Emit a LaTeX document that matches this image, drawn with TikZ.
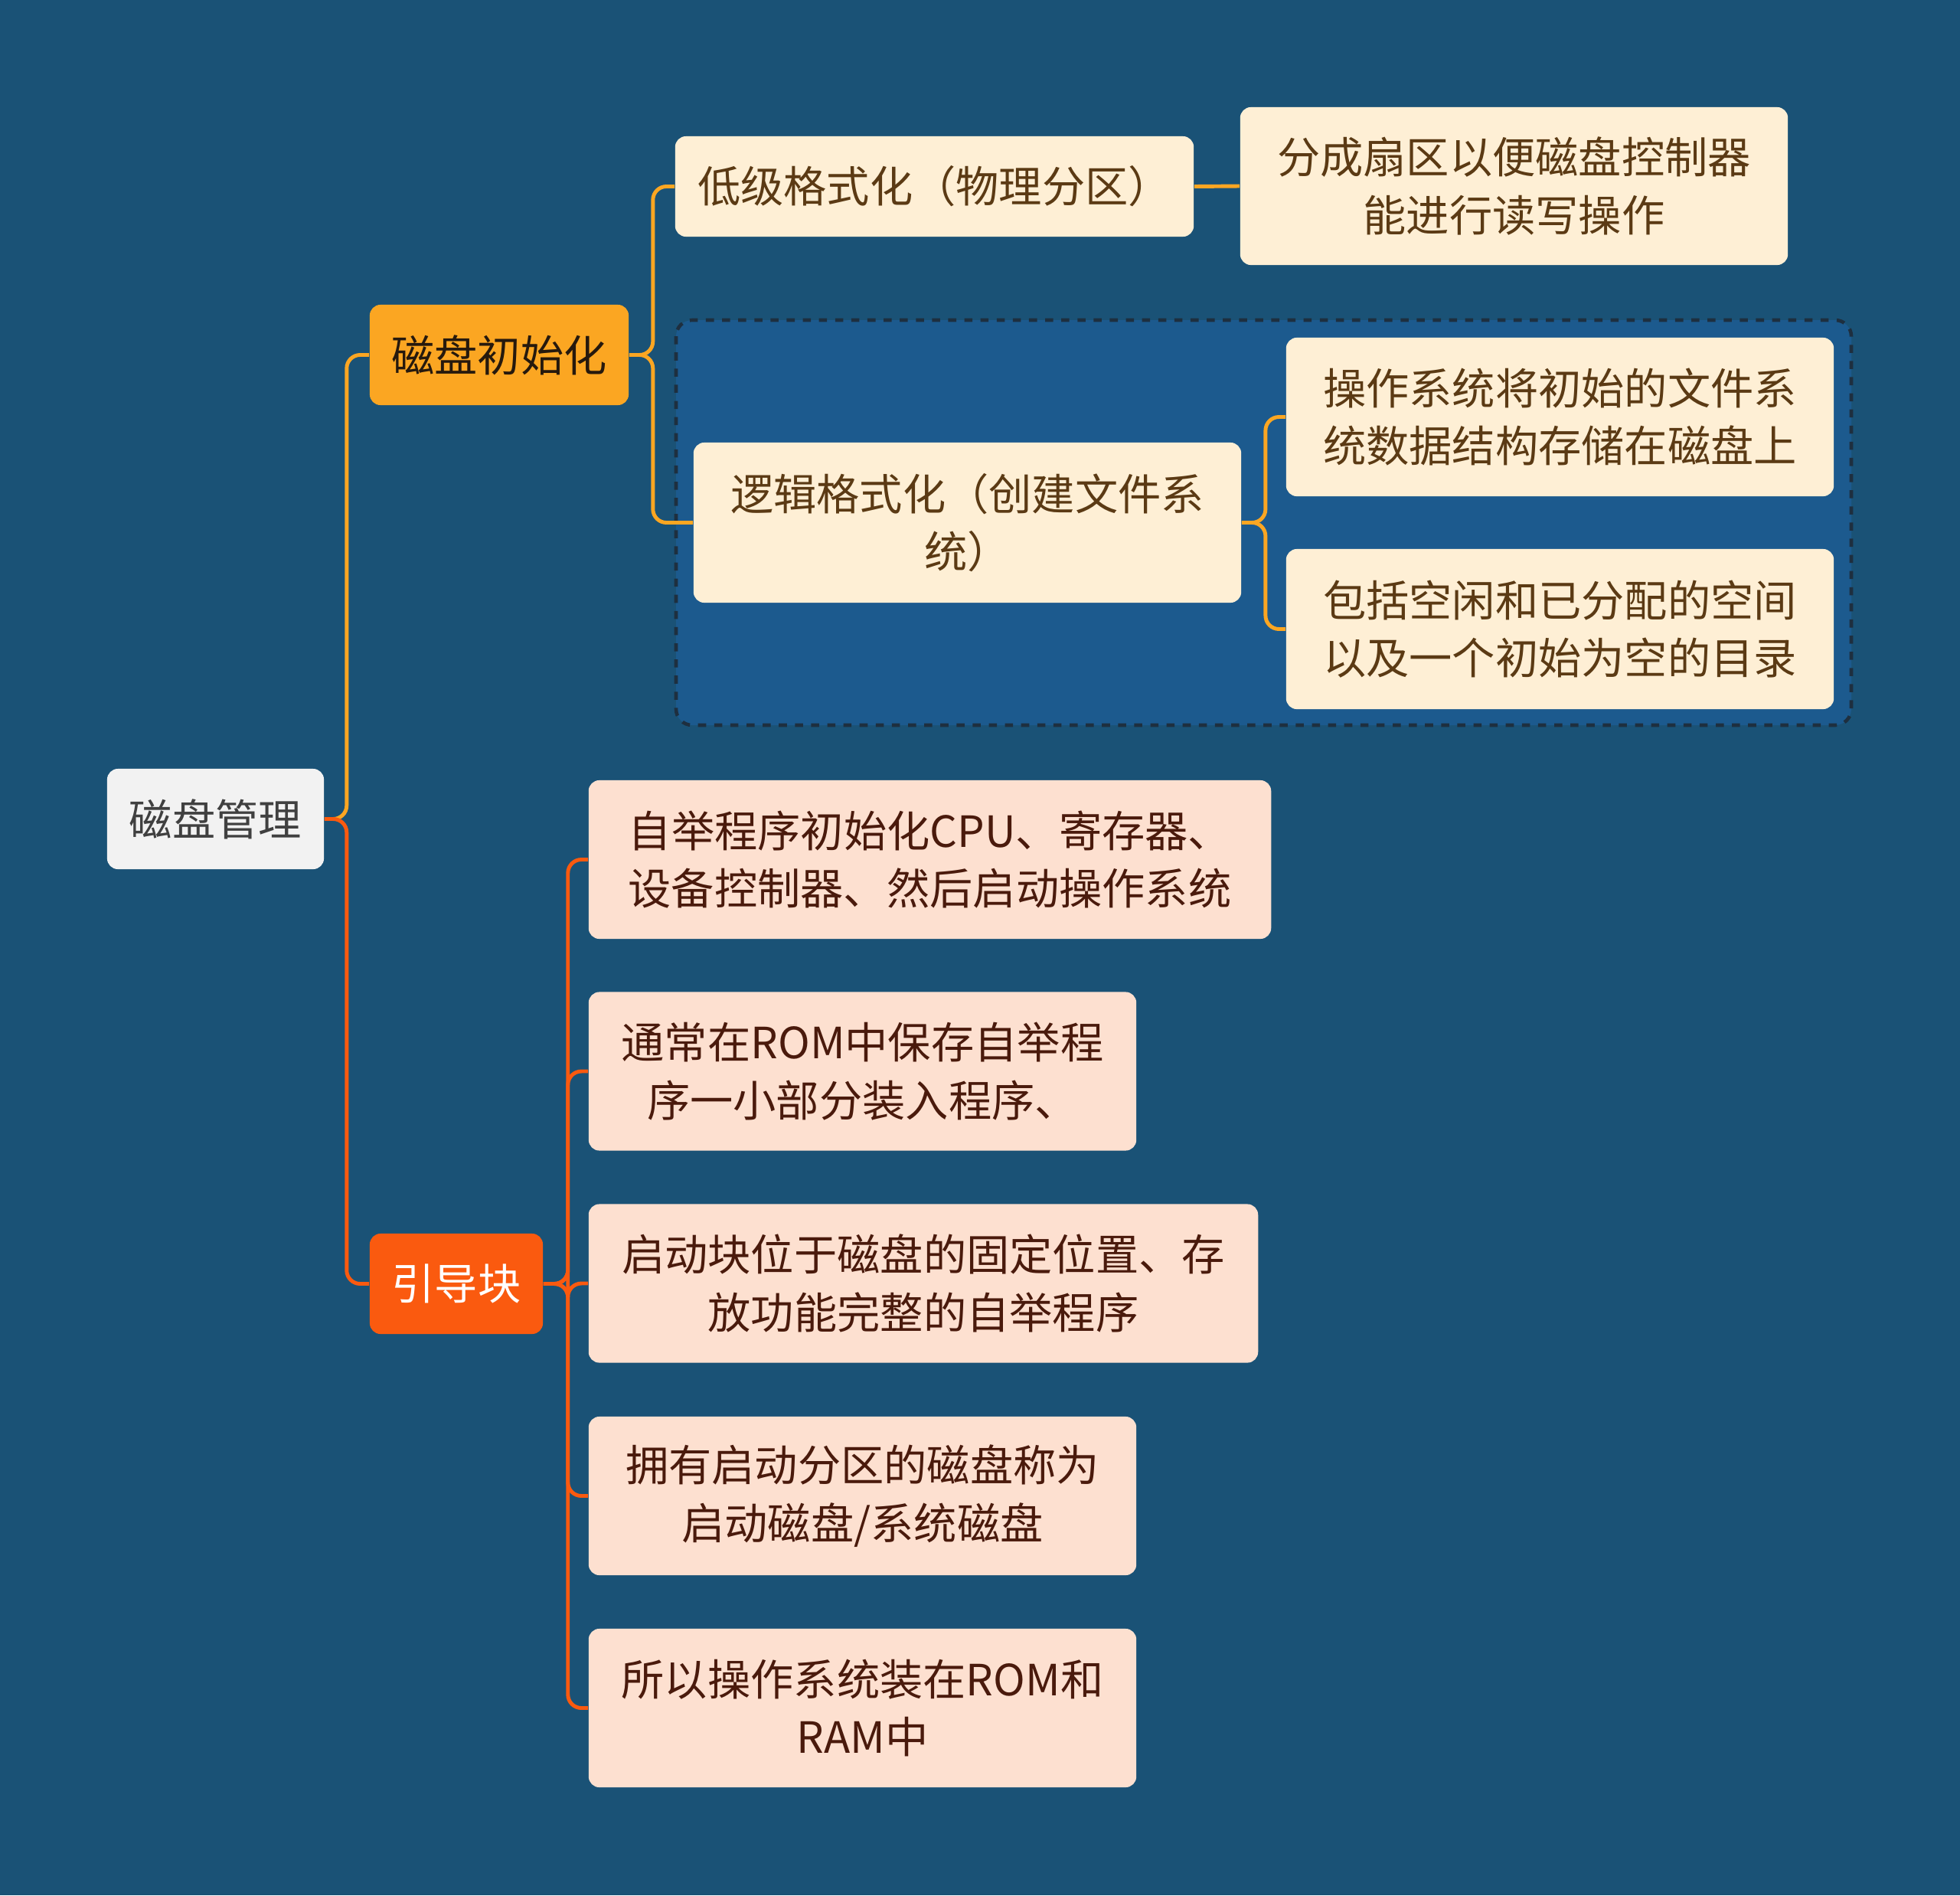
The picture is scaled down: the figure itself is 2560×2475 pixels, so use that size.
\documentclass[tikz,border=0pt]{standalone}
\usepackage{fontspec}
\setmainfont{Noto Sans CJK SC}
\usetikzlibrary{positioning}
\definecolor{mapbg}{HTML}{1A5276}
\definecolor{groupbg}{HTML}{1C5A8E}
\definecolor{groupline}{HTML}{1E2F3F}
\definecolor{initorange}{HTML}{FBA622}
\definecolor{bootred}{HTML}{FA5A0F}
\definecolor{creamfill}{HTML}{FEEFD5}
\definecolor{peachfill}{HTML}{FDE0D0}
\definecolor{rootfill}{HTML}{F2F2F2}
\definecolor{creamtext}{HTML}{5B3A14}
\definecolor{peachtext}{HTML}{4A1A0C}

\begin{document}
\begin{tikzpicture}[x=0.01cm, y=-0.01cm,
    topic/.style={rounded corners=4pt, inner sep=0pt, align=center,
      font=\fontsize{16}{21.5}\selectfont},
    rootbox/.style={topic, fill=rootfill, text=black!75, minimum width=2.83cm, minimum height=1.31cm},
    initbox/.style={topic, fill=initorange, text=black!80!brown, minimum height=1.31cm},
    bootbox/.style={topic, fill=bootred, text=white, minimum height=1.31cm},
    creambox/.style={topic, fill=creamfill, text=creamtext},
    peachbox/.style={topic, fill=peachfill, text=peachtext, minimum height=2.07cm},
    initline/.style={initorange, line width=1.4pt, rounded corners=5pt},
    bootline/.style={bootred, line width=1.4pt, rounded corners=5pt}]
  % background
  \fill[mapbg] (0,0) rectangle (2560,2475);
  % group frame round the logical formatting branch
  \draw[groupline, fill=groupbg, dashed, line width=1.3pt, rounded corners=6pt]
    (883,418) rectangle (2418,947);

  % main topics
  \node[rootbox] (root) at (281.5,1069.5) {磁盘管理};
  \node[initbox, minimum width=3.38cm] (init) at (652,463.5) {磁盘初始化};
  \node[bootbox, minimum width=2.26cm] (boot) at (596,1676.5) {引导块};

  % disk initialisation
  \node[creambox, minimum width=6.77cm, minimum height=1.31cm] (low) at (1220.5,243.5) {低级格式化（物理分区）};
  \node[creambox, minimum width=7.15cm, minimum height=2.06cm] (sector) at (1977.5,243) {分成扇区以便磁盘控制器\\能进行读写操作};
  \node[creambox, minimum width=7.15cm, minimum height=2.09cm] (logic) at (1263.5,682.5) {逻辑格式化（创建文件系\\统）};
  \node[creambox, minimum width=7.15cm, minimum height=2.07cm] (fsdata) at (2037.5,544.5) {操作系统将初始的文件系\\统数据结构存储在磁盘上};
  \node[creambox, minimum width=7.15cm, minimum height=2.09cm] (freespace) at (2037.5,821.5) {包括空闲和已分配的空间\\以及一个初始为空的目录};

  % boot block
  \node[peachbox, minimum width=8.91cm] (b1) at (1214.5,1122.5) {自举程序初始化CPU、寄存器、\\设备控制器、然后启动操作系统};
  \node[peachbox, minimum width=7.15cm] (b2) at (1126.5,1399) {通常在ROM中保存自举程\\序一小部分装入程序、};
  \node[peachbox, minimum width=8.74cm] (b3) at (1206,1676) {启动块位于磁盘的固定位置、存\\放功能完整的自举程序};
  \node[peachbox, minimum width=7.15cm] (b4) at (1126.5,1953.5) {拥有启动分区的磁盘称为\\启动磁盘/系统磁盘};
  \node[peachbox, minimum width=7.15cm] (b5) at (1126.5,2230.5) {所以操作系统装在ROM和\\RAM中};

  % connectors
  \draw[initline] (root.east) -- ++(29,0) |- (init.west);
  \draw[bootline] (root.east) -- ++(29,0) |- (boot.west);
  \draw[initline] (init.east) -- ++(31,0) |- (low.west);
  \draw[initline] (init.east) -- ++(31,0) |- (logic.west);
  \draw[initline] (low.east) -- (sector.west);
  \draw[initline] (logic.east) -- ++(31,0) |- (fsdata.west);
  \draw[initline] (logic.east) -- ++(31,0) |- (freespace.west);
  \foreach \i in {1,...,5}
    \draw[bootline] (boot.east) -- ++(32,0) |- (b\i.west);
\end{tikzpicture}
\end{document}
